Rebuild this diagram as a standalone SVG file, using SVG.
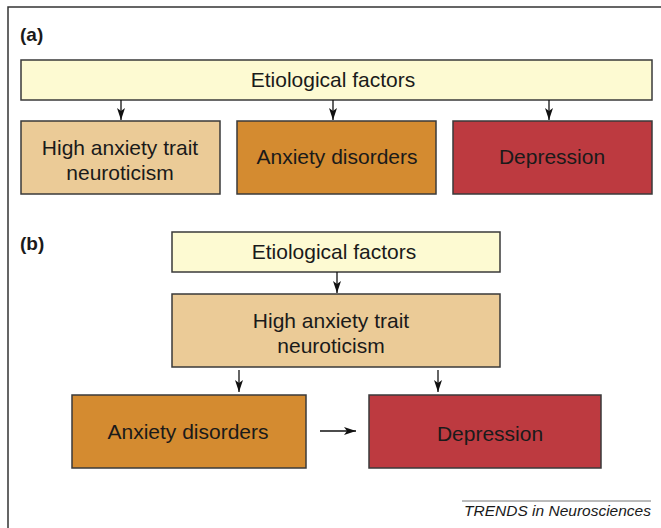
<svg xmlns="http://www.w3.org/2000/svg" width="661" height="528" viewBox="0 0 661 528">
<style>
text{font-family:"Liberation Sans",Arial,sans-serif;fill:#1a1a1a}
.t{font-size:21px;text-anchor:middle}
.lbl{font-size:19px;font-weight:bold}
.box{stroke:#3a3a3a;stroke-width:1.5}
.yel{fill:#FDFAD2}
.tan{fill:#EBCB97}
.org{fill:#D48B30}
.red{fill:#BD3A40}
.c{stroke:#111;stroke-width:1.3;fill:none;marker-end:url(#ah)}
</style>
<defs>
<marker id="ah" viewBox="0 0 12 8" refX="12" refY="4" markerWidth="12" markerHeight="8" markerUnits="userSpaceOnUse" orient="auto">
<path d="M0,0 L12,4 L0,8 L3,4 Z" fill="#111"/>
</marker>
</defs>
<rect width="661" height="528" fill="#fff"/>
<path d="M8,528 V7 H661" fill="none" stroke="#333" stroke-width="1.5"/>
<text class="lbl" x="20" y="41">(a)</text>
<text class="lbl" x="20" y="250">(b)</text>
<g id="a-etiological"><rect class="box yel" x="21" y="60" width="631" height="40"/><text class="t" x="333" y="87">Etiological factors</text></g>
<g id="a-high"><rect class="box tan" x="21" y="121" width="199" height="73"/><text class="t" x="120" y="155">High anxiety trait</text><text class="t" x="120" y="180">neuroticism</text></g>
<g id="a-anxiety"><rect class="box org" x="237" y="121" width="199" height="73"/><text class="t" x="337" y="164">Anxiety disorders</text></g>
<g id="a-depression"><rect class="box red" x="453" y="121" width="199" height="73"/><text class="t" x="552" y="164">Depression</text></g>
<g id="b-etiological"><rect class="box yel" x="172" y="232" width="328" height="40"/><text class="t" x="334" y="259">Etiological factors</text></g>
<g id="b-high"><rect class="box tan" x="172" y="294" width="328" height="73"/><text class="t" x="331" y="328">High anxiety trait</text><text class="t" x="331" y="353">neuroticism</text></g>
<g id="b-anxiety"><rect class="box org" x="72" y="395" width="234" height="73"/><text class="t" x="188" y="439">Anxiety disorders</text></g>
<g id="b-depression"><rect class="box red" x="369" y="395" width="232" height="73"/><text class="t" x="490" y="441">Depression</text></g>
<g id="connectors">
<line class="c" x1="121" y1="100" x2="121" y2="120"/>
<line class="c" x1="333" y1="100" x2="333" y2="120"/>
<line class="c" x1="549" y1="100" x2="549" y2="120"/>
<line class="c" x1="337" y1="272" x2="337" y2="293"/>
<line class="c" x1="239" y1="370" x2="239" y2="392"/>
<line class="c" x1="438" y1="370" x2="438" y2="392"/>
<line class="c" x1="320" y1="431" x2="356" y2="431"/>
</g>
<line x1="462" y1="501" x2="651" y2="501" stroke="#777" stroke-width="1"/>
<text x="651" y="516" font-size="15.5" font-style="italic" text-anchor="end">TRENDS in Neurosciences</text>
</svg>
